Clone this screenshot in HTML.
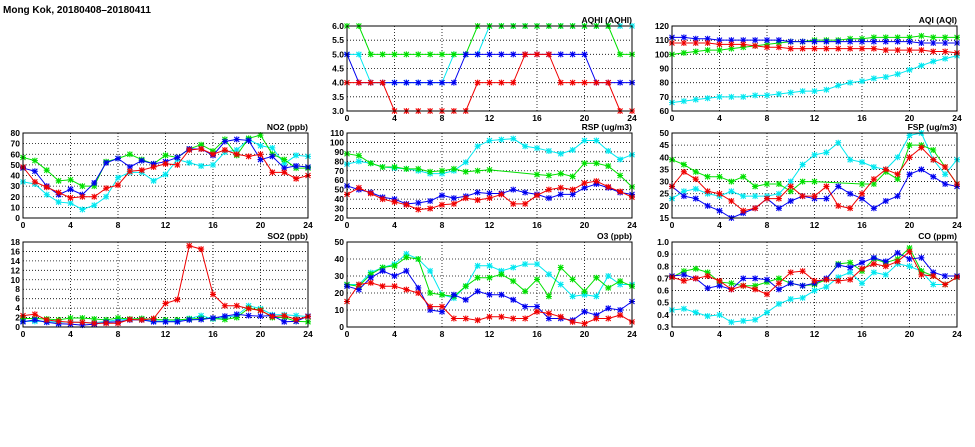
<!DOCTYPE html>
<html><head><meta charset="utf-8"><style>
body{margin:0;background:#fff;width:975px;height:447px;overflow:hidden}
svg{display:block}
text{font-family:"Liberation Sans",sans-serif;font-size:8.5px;font-weight:bold;fill:#000}
</style></head><body>
<svg id="c" width="975" height="447">
<text x="3" y="13" style="font-size:10px">Mong Kok, 20180408–20180411</text>
</svg>
<script>
const hours = [0,1,2,3,4,5,6,7,8,9,10,11,12,13,14,15,16,17,18,19,20,21,22,23,24];
const xTicks = [0,4,8,12,16,20,24];
const colors = ['#00e8f0','#00e000','#0000f0','#f00000'];
const seriesNames = ['cyan','green','blue','red'];

const no2Cyan=[34,32,22,15,14,8,12,20,38,43,43,35,41,55,52,49,50,62,64,74,68,66,51,59,58];
const no2Green=[57,54,45,35,36,30,30,53,56,60,55,51,59,57,65,69,63,74,59,75,78,60,55,47,47];
const no2Blue=[47,44,30,22,27,22,33,52,56,48,54,51,53,57,65,65,59,72,74,73,55,58,47,49,48];
const no2Red=[48,34,29,24,19,20,20,28,31,44,45,48,51,50,64,65,60,64,60,58,60,43,43,37,40];
const no2Ticks=[0,10,20,30,40,50,60,70,80];

const so2Cyan=[1.2,1.2,1.2,1.0,1.1,0.9,0.9,1.2,1.5,1.6,1.7,1.3,1.2,1.3,1.8,2.4,1.7,2,2.4,4.5,3.9,2.6,2.6,2.4,2.2];
const so2Green=[1.8,1.8,1.7,1.5,1.9,1.9,1.7,1.5,1.9,1.7,1.8,1.6,1.5,1.5,1.7,1.8,1.8,1.6,2,4,3.6,2,2,1.2,1.1];
const so2Blue=[1.1,1.5,1.0,0.7,0.6,0.4,0.6,1.0,1.1,1.5,1.5,1.1,1.1,1.1,1.5,1.6,1.9,2.3,2.7,2.4,2.3,2.4,1.1,1.2,2.3];
const so2Red=[2.4,2.7,1.5,1.2,1.0,1.0,0.8,0.8,0.8,1.6,1.5,1.8,5,5.8,17.2,16.5,6.9,4.5,4.5,3.9,3.5,2.2,2.4,1.6,2.2];
const so2Ticks=[0,2,4,6,8,10,12,14,16,18];

const aqhiCyan=[5,5,4,4,4,4,4,4,4,5,5,5,6,6,6,6,6,6,6,6,6,6,6,6,6];
const aqhiGreen=[6,6,5,5,5,5,5,5,5,5,5,6,6,6,6,6,6,6,6,6,6,6,6,5,5];
const aqhiBlue=[5,4,4,4,4,4,4,4,4,4,5,5,5,5,5,5,5,5,5,5,5,4,4,4,4];
const aqhiRed=[4,4,4,4,3,3,3,3,3,3,3,4,4,4,4,5,5,5,4,4,4,4,4,3,3];
const aqhiTicks=[3.0,3.5,4.0,4.5,5.0,5.5,6.0];

const rspCyan=[77,80,78,74,73,72,70,67,67,70,79,96,102,103,104,96,94,91,88,92,102,102,91,82,87];
const rspGreen=[88,86,78,74,74,72,72,69,70,72,69,70,71,null,null,null,66,65,67,64,78,78,75,65,53];
const rspBlue=[54,50,47,42,40,35,36,38,44,41,43,47,46,46,50,47,45,41,45,45,52,56,52,47,45];
const rspRed=[45,52,46,40,37,34,29,30,34,35,41,39,41,45,35,35,44,50,52,50,57,59,53,48,42];
const rspTicks=[20,30,40,50,60,70,80,90,100,110];

const aqiCyan=[66,67,68,69,70,70,70,71,71,72,73,74,74,75,78,80,81,83,84,86,89,92,95,97,99];
const aqiGreen=[100,101,102,103,103,104,105,106,107,108,109,109,110,110,110,111,111,112,112,112,112,113,112,112,112];
const aqiBlue=[112,112,111,111,110,110,110,110,110,110,109,109,109,109,109,109,109,109,109,109,109,108,108,108,108];
const aqiRed=[108,108,108,108,107,107,107,106,105,105,104,104,104,104,104,104,104,104,103,103,103,103,102,102,101];
const aqiTicks=[60,70,80,90,100,110,120];

const fspCyan=[23,26,27,25,24,26,24,24,24,25,30,37,41,42,46,39,38,36,35,40,49,50,39,33,39];
const fspGreen=[39,37,34,32,32,30,32,28,29,29,26,30,30,null,null,null,29,29,34,31,45,45,43,36,29];
const fspBlue=[28,24,23,20,18,15,17,19,23,19,22,24,23,23,28,25,23,19,22,24,33,35,32,29,28];
const fspRed=[28,34,31,26,25,22,18,19,23,23,28,24,24,28,20,19,25,31,35,33,40,44,39,36,29];
const fspTicks=[15,20,25,30,35,40,45,50];

const o3Cyan=[25,25,32,35,37,43,40,33,19,17,24,36,36,33,35,37,37,31,25,18,19,18,30,25,25];
const o3Green=[25,24,31,35,36,41,40,20,19,18,24,29,29,31,27,21,28,18,35,28,21,29,23,27,24];
const o3Blue=[24,22,29,33,30,33,23,10,9,19,16,21,19,19,16,12,12,5,5,4,9,7,11,10,15];
const o3Red=[15,25,26,24,24,22,20,12,12,5,5,4,6,6,5,5,9,8,6,3,2,5,5,7,3];
const o3Ticks=[0,10,20,30,40,50];

const coCyan=[.44,.45,.42,.39,.40,.34,.35,.36,.42,.49,.53,.54,.60,.63,.71,.75,.66,.75,.73,.82,.80,.76,.65,.65,.71];
const coGreen=[.71,.76,.78,.75,.67,.66,.64,.64,.67,.70,.66,.64,.65,.69,.82,.83,.76,.86,.83,.86,.95,.76,.72,.65,.71];
const coBlue=[.72,.73,.70,.62,.64,.61,.70,.70,.69,.61,.66,.64,.66,.70,.81,.79,.83,.87,.84,.91,.86,.87,.75,.72,.72];
const coRed=[.71,.68,.70,.72,.68,.61,.64,.61,.57,.66,.75,.76,.68,.69,.68,.69,.78,.82,.80,.84,.92,.73,.72,.65,.71];
const coTicks=[0.3,0.4,0.5,0.6,0.7,0.8,0.9,1.0];

const panels=[
 {name:'aqhi',title:'AQHI (AQHI)',x:347,y:26,ticks:aqhiTicks,dec:1,s:[aqhiCyan,aqhiGreen,aqhiBlue,aqhiRed]},
 {name:'aqi',title:'AQI (AQI)',x:672,y:26,ticks:aqiTicks,dec:0,s:[aqiCyan,aqiGreen,aqiBlue,aqiRed]},
 {name:'no2',title:'NO2 (ppb)',x:23,y:133,ticks:no2Ticks,dec:0,s:[no2Cyan,no2Green,no2Blue,no2Red]},
 {name:'rsp',title:'RSP (ug/m3)',x:347,y:133,ticks:rspTicks,dec:0,s:[rspCyan,rspGreen,rspBlue,rspRed]},
 {name:'fsp',title:'FSP (ug/m3)',x:672,y:133,ticks:fspTicks,dec:0,s:[fspCyan,fspGreen,fspBlue,fspRed]},
 {name:'so2',title:'SO2 (ppb)',x:23,y:242,ticks:so2Ticks,dec:0,s:[so2Cyan,so2Green,so2Blue,so2Red]},
 {name:'o3',title:'O3 (ppb)',x:347,y:242,ticks:o3Ticks,dec:0,s:[o3Cyan,o3Green,o3Blue,o3Red]},
 {name:'co',title:'CO (ppm)',x:672,y:242,ticks:coTicks,dec:1,s:[coCyan,coGreen,coBlue,coRed]}
];
const W=285,H=85,NS='http://www.w3.org/2000/svg';
const svg=document.getElementById('c');
function mk(tag,attrs,parent){const e=document.createElementNS(NS,tag);for(const k in attrs)e.setAttribute(k,attrs[k]);(parent||svg).appendChild(e);return e;}
panels.forEach(p=>{
 const g=mk('g',{});
 
 
 const ymin=p.ticks[0],ymax=p.ticks[p.ticks.length-1];
 const xs=v=>p.x+v/24*W;
 const ys=v=>p.y+H-(v-ymin)/(ymax-ymin)*H;
 p.ticks.forEach(t=>{
  const yy=ys(t);
  if(t!==ymin&&t!==ymax){const l=mk('line',{x1:p.x,x2:p.x+W,y1:yy,y2:yy,stroke:'#000','stroke-width':0.8,'stroke-dasharray':'1,2'},g);
   }
  const tx=mk('text',{x:p.x-3,y:yy+3,'text-anchor':'end'},g);
  
  tx.textContent=t.toFixed(p.dec);
 });
 xTicks.forEach(t=>{
  const xx=xs(t);
  if(t!==0&&t!==24){const l=mk('line',{x1:xx,x2:xx,y1:p.y,y2:p.y+H,stroke:'#000','stroke-width':0.8,'stroke-dasharray':'1,2'},g);
   }
  const tx=mk('text',{x:xx,y:p.y+H+10,'text-anchor':'middle'},g);
  
  tx.textContent=t;
 });
 p.s.forEach((arr,si)=>{
  const pts=[];arr.forEach((v,i)=>{if(v!==null)pts.push([xs(hours[i]),ys(v)]);});
  const pl=mk('polyline',{points:pts.map(q=>q.join(',')).join(' '),fill:'none',stroke:colors[si],'stroke-width':1},g);
  
  
  pts.forEach(q=>{
   const m=mk('path',{d:`M${q[0]-2.5},${q[1]-2.5}L${q[0]+2.5},${q[1]+2.5}M${q[0]-2.5},${q[1]+2.5}L${q[0]+2.5},${q[1]-2.5}M${q[0]-3},${q[1]}L${q[0]+3},${q[1]}M${q[0]},${q[1]-3}L${q[0]},${q[1]+3}`,stroke:colors[si],'stroke-width':1.1},g);
   
   
  });
 });
 const fr=mk('rect',{x:p.x,y:p.y,width:W,height:H,fill:'none',stroke:'#000','stroke-width':1},g);
 
 const ti=mk('text',{x:p.x+W,y:p.y-3,'text-anchor':'end'},g);
 
 ti.textContent=p.title;
});
</script>
</body></html>
